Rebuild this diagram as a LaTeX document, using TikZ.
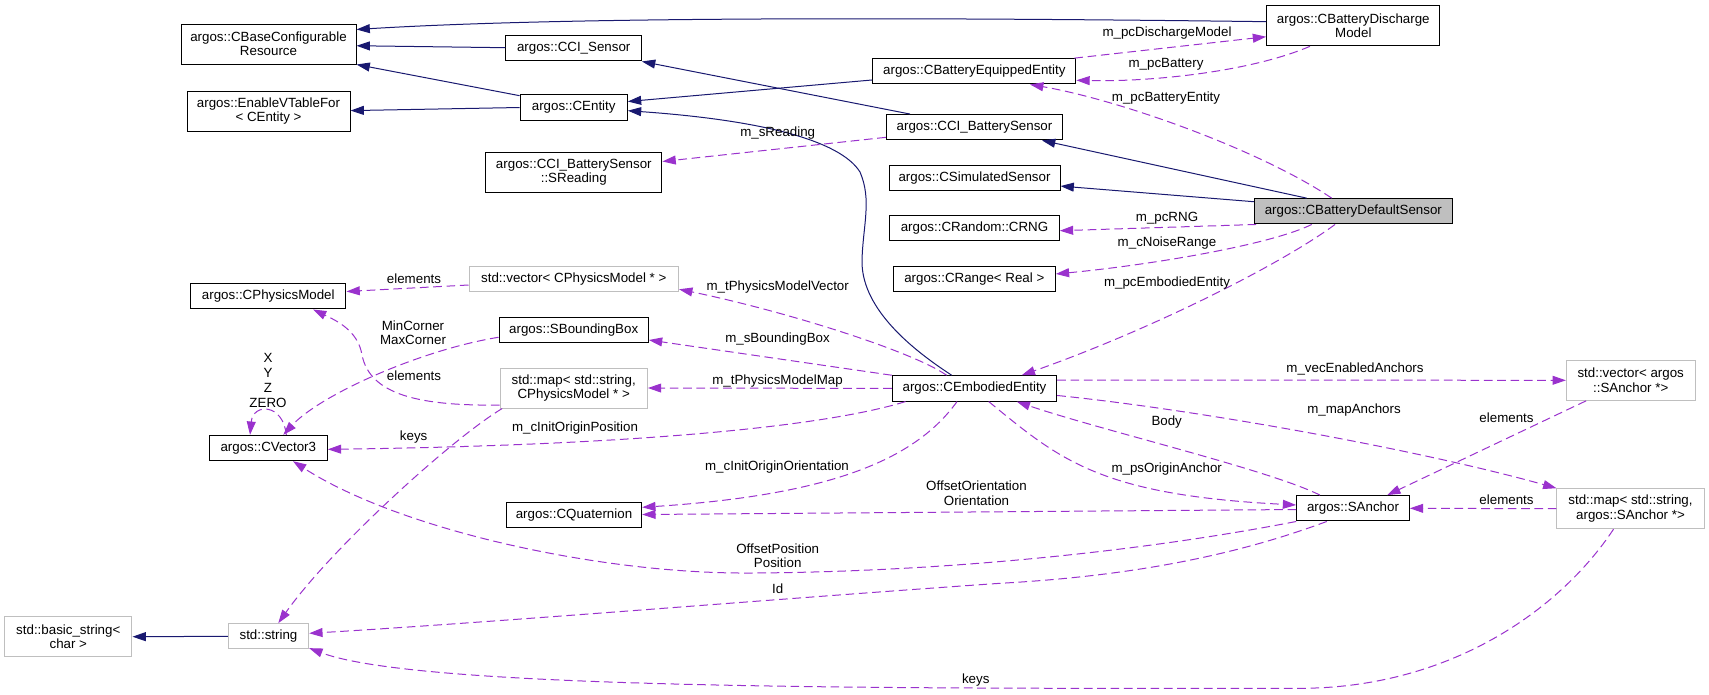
\documentclass[tikz,border=0pt]{standalone}
\usepackage{fontspec}
\setmainfont{Liberation Sans}
\usetikzlibrary{arrows.meta}
\definecolor{inhblue}{HTML}{191970}
\definecolor{usepurple}{HTML}{9A32CD}
\definecolor{boxgray}{HTML}{BFBFBF}

\begin{document}
\begin{tikzpicture}[x=0.75pt, y=-0.75pt, font=\fontsize{10}{10.75}\selectfont,
  cls/.style={draw=black, line width=0.75pt, fill=white, inner sep=0pt, align=center, minimum height=19pt},
  extcls/.style={cls, draw=boxgray},
  curcls/.style={cls, fill=boxgray},
  inh/.style={draw=inhblue, line width=0.75pt, -{Triangle[length=10pt, width=6.7pt]}},
  usg/.style={draw=usepurple, line width=0.75pt, dash pattern=on 6.5pt off 3.5pt, -{Triangle[length=10pt, width=6.7pt]}},
  lbl/.style={inner sep=0pt, align=center}]
\useasboundingbox (0,0) rectangle (1709,694);
\node[cls, minimum width=131.25pt, minimum height=30pt] (base) at (268.5,44) {argos::CBaseConfigurable\\Resource};
\node[cls, minimum width=122.25pt, minimum height=30pt] (vtab) at (268.5,111) {argos::EnableVTableFor\\< CEntity >};
\node[cls, minimum width=101.6pt] (cci) at (573.7,48.3) {argos::CCI\_Sensor};
\node[cls, minimum width=80.5pt] (ent) at (573.7,107.5) {argos::CEntity};
\node[cls, minimum width=130pt, minimum height=30pt] (disc) at (1353.3,25.8) {argos::CBatteryDischarge\\Model};
\node[cls, minimum width=152.3pt] (equip) at (974.3,71.3) {argos::CBatteryEquippedEntity};
\node[cls, minimum width=132.3pt] (bsens) at (974.5,127.2) {argos::CCI\_BatterySensor};
\node[cls, minimum width=132.2pt, minimum height=30pt] (sread) at (573.8,172.4) {argos::CCI\_BatterySensor\\::SReading};
\node[cls, minimum width=128.25pt] (sim) at (974.5,177.8) {argos::CSimulatedSensor};
\node[cls, minimum width=127.2pt] (rng) at (974.5,228.3) {argos::CRandom::CRNG};
\node[cls, minimum width=121.5pt] (range) at (974.3,279.3) {argos::CRange< Real >};
\node[curcls, minimum width=148.5pt] (dflt) at (1353.3,211.3) {argos::CBatteryDefaultSensor};
\node[extcls, minimum width=157.2pt] (pvec) at (573.8,279) {std::vector< CPhysicsModel * >};
\node[cls, minimum width=112pt] (bbox) at (573.7,329.8) {argos::SBoundingBox};
\node[extcls, minimum width=110.5pt, minimum height=30pt] (pmap) at (573.7,388) {std::map< std::string,\\CPhysicsModel * >};
\node[cls, minimum width=123.3pt] (emb) at (974.5,388.4) {argos::CEmbodiedEntity};
\node[cls, minimum width=116.5pt] (pmod) at (268.3,296.3) {argos::CPhysicsModel};
\node[cls, minimum width=88.5pt] (vec3) at (268.3,448) {argos::CVector3};
\node[cls, minimum width=101.5pt] (quat) at (574,515.3) {argos::CQuaternion};
\node[extcls, minimum width=95.5pt, minimum height=30pt] (bstr) at (68.3,636.7) {std::basic\_string<\\char >};
\node[extcls, minimum width=60.3pt] (str) at (268.5,636.3) {std::string};
\node[cls, minimum width=84.5pt] (anc) at (1353,508.3) {argos::SAnchor};
\node[extcls, minimum width=96.5pt, minimum height=30pt] (avec) at (1630.7,380.3) {std::vector< argos\\::SAnchor *>};
\node[extcls, minimum width=110.3pt, minimum height=30pt] (amap) at (1630.5,508.7) {std::map< std::string,\\argos::SAnchor *>};

\draw[inh] ([yshift=3.1pt]disc.west) .. controls (900,17) and (560,17) .. ([yshift=10.9pt]base.east);
\draw[inh] ([yshift=0.45pt]cci.west) -- ([yshift=-1.3pt]base.east);
\draw[inh] ([yshift=-1pt]ent.north west) -- (base.south east);
\draw[inh] (ent.west) -- ([yshift=0.3pt]vtab.east);
\draw[inh] ([yshift=-6.5pt]equip.west) -- ([yshift=4.5pt]ent.east);
\draw[inh] ([xshift=-48.4pt]bsens.north) -- (cci.south east);
\draw[inh] ([xshift=-35pt]dflt.north) -- ([xshift=50.6pt]bsens.south);
\draw[inh] ([yshift=7.2pt]dflt.west) -- ([yshift=-6.2pt]sim.east);
\draw[inh] ([xshift=-17.1pt]emb.north) .. controls (905,345) and (861,305) .. (862,260)
  .. controls (863,225) and (872,200) .. (860,172) .. controls (840,140) and (760,120) .. ([yshift=-2.4pt]ent.east);
\draw[inh] (str.west) -- (bstr.east);

\draw[usg] ([xshift=-1.5pt]equip.north east) -- ([yshift=-8.2pt]disc.west);
\draw[usg] ([xshift=-32.5pt]disc.south) .. controls (1250,72) and (1150,82) .. ([yshift=-6.75pt]equip.east);
\draw[usg] ([xshift=-16.2pt]dflt.north) .. controls (1260,150) and (1120,100) .. ([xshift=41.8pt]equip.south);
\draw[usg] ([yshift=-7.6pt]bsens.west) -- ([yshift=8.2pt]sread.east);
\draw[usg] ([xshift=1.8pt]dflt.south west) -- ([yshift=-1.8pt]rng.east);
\draw[usg] ([xshift=-31.2pt]dflt.south) .. controls (1270,245) and (1150,265) .. ([yshift=4pt]range.east);
\draw[usg] ([xshift=-13.7pt]dflt.south) .. controls (1280,265) and (1150,330) .. ([xshift=35.4pt]emb.north);
\draw[usg] ([xshift=-20.9pt]emb.north) .. controls (910,350) and (780,310) .. ([yshift=-7.7pt]pvec.east);
\draw[usg] (emb.north west) -- ([yshift=-7.65pt]bbox.east);
\draw[usg] (emb.west) -- (pmap.east);
\draw[usg] ([xshift=10.3pt]emb.south west) .. controls (830,425) and (650,445) .. ([yshift=-1pt]vec3.east);
\draw[usg] ([xshift=-13.1pt]emb.south) .. controls (915,460) and (830,495) .. ([yshift=6pt]quat.east);
\draw[usg] ([yshift=-0.9pt]anc.west) -- ([yshift=0.6pt]quat.east);
\draw[usg] (anc.south west) .. controls (1150,550) and (950,572) .. (750,573)
  .. controls (600,574) and (400,530) .. ([xshift=18.5pt]vec3.south);
\draw[usg] ([xshift=-19.7pt]anc.south) .. controls (1250,550) and (1150,575) .. (1000,583.3)
  .. controls (800,597) and (500,622) .. ([yshift=2.25pt]str.east);
\draw[usg] ([xshift=-12.75pt]amap.south) .. controls (1560,610) and (1450,688) .. (1300,688.3)
  .. controls (900,688.5) and (420,690) .. ([yshift=1pt]str.south east);
\draw[usg] ([xshift=2pt]pmap.south west) .. controls (450,440) and (330,550) .. ([xshift=7.35pt]str.north);
\draw[usg] ([yshift=2.6pt]pmap.south west) .. controls (420,406) and (370,395) .. (362,355)
  .. controls (358,330) and (335,320) .. ([xshift=33.5pt]pmod.south);
\draw[usg] ([yshift=-4.5pt]pvec.west) -- ([yshift=3.6pt]pmod.east);
\draw[usg] ([yshift=-5.6pt]bbox.west) .. controls (420,350) and (320,395) .. ([xshift=11.25pt]vec3.north);
\draw[usg] ([xshift=13.5pt]vec3.north) .. controls (283,403) and (253,403) .. ([xshift=-13.7pt]vec3.north);
\draw[usg] ([yshift=6.3pt]emb.east) -- (avec.west);
\draw[usg] ([yshift=-5.3pt]emb.east) .. controls (1200,410) and (1420,450) .. (amap.north west);
\draw[usg] ([xshift=-24.75pt]anc.north) .. controls (1270,470) and (1100,430) .. ([xshift=31.65pt]emb.south);
\draw[usg] ([xshift=10.65pt]emb.south) .. controls (1060,460) and (1100,495) .. ([yshift=2.5pt]anc.west);
\draw[usg] ([xshift=15.2pt]avec.south west) -- ([xshift=-17pt]anc.north east);
\draw[usg] (amap.west) -- (anc.east);

\node[lbl] (lDisc) at (1167,32.7) {m\_pcDischargeModel};
\node[lbl] (lBat) at (1166,64.7) {m\_pcBattery};
\node[lbl] (lBatEnt) at (1166,97.7) {m\_pcBatteryEntity};
\node[lbl] (lRead) at (777.7,133.3) {m\_sReading};
\node[lbl] (lRng) at (1167,218.3) {m\_pcRNG};
\node[lbl] (lNoise) at (1167,242.7) {m\_cNoiseRange};
\node[lbl] (lEmb) at (1167,282.7) {m\_pcEmbodiedEntity};
\node[lbl] (lPVec) at (777.7,286.7) {m\_tPhysicsModelVector};
\node[lbl] (lBBox) at (777.5,338.7) {m\_sBoundingBox};
\node[lbl] (lPMap) at (777.5,380.7) {m\_tPhysicsModelMap};
\node[lbl] (lPos) at (575,428.3) {m\_cInitOriginPosition};
\node[lbl] (lOri) at (777,466.7) {m\_cInitOriginOrientation};
\node[lbl] (lOffOri) at (976.5,493.3) {OffsetOrientation\\Orientation};
\node[lbl] (lOffPos) at (777.7,555.5) {OffsetPosition\\Position};
\node[lbl] (lId) at (777.7,588.3) {Id};
\node[lbl] (lKeysA) at (975.7,680) {keys};
\node[lbl] (lKeysB) at (413.7,437.3) {keys};
\node[lbl] (lElemR) at (414,376) {elements};
\node[lbl] (lElemS) at (414,278.3) {elements};
\node[lbl] (lCorner) at (413,333) {MinCorner\\MaxCorner};
\node[lbl, font=\fontsize{10}{11.25}\selectfont] (lXYZ) at (268,380) {X\\Y\\Z\\ZERO};
\node[lbl] (lVecA) at (1355,369.3) {m\_vecEnabledAnchors};
\node[lbl] (lMapA) at (1354,410) {m\_mapAnchors};
\node[lbl] (lBody) at (1166.7,421.7) {Body};
\node[lbl] (lOrig) at (1166.7,469.3) {m\_psOriginAnchor};
\node[lbl] (lElemZ) at (1506.5,417.3) {elements};
\node[lbl] (lElemA) at (1506.5,500) {elements};
\end{tikzpicture}
\end{document}
